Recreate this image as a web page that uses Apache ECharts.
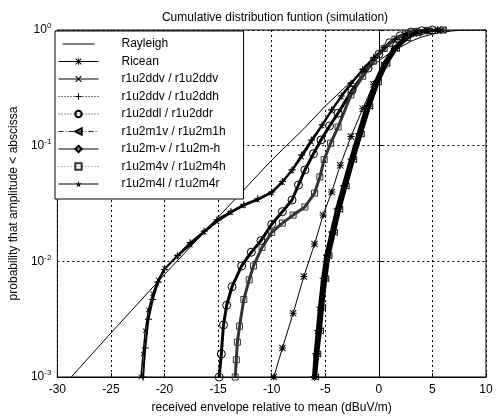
<!DOCTYPE html>
<html><head><meta charset="utf-8">
<script src="https://cdn.jsdelivr.net/npm/echarts@6/dist/echarts.min.js"></script>
<style>html,body{margin:0;padding:0;background:#fff}#c{width:500px;height:419px}</style>
</head><body><div id="c"></div>
<script>
// ---- text ----
const chartTitle = 'Cumulative distribution funtion (simulation)';
const xAxisTitle = 'received envelope relative to mean (dBuV/m)';
const yAxisTitle = 'probability that amplitude < abscissa';
const seriesNames = ['Rayleigh','Ricean','r1u2ddv / r1u2ddv','r1u2ddv / r1u2ddh','r1u2ddl / r1u2ddr',
  'r1u2m1v / r1u2m1h','r1u2m-v / r1u2m-h','r1u2m4v / r1u2m4h','r1u2m4l / r1u2m4r'];
const xTicks = [-30,-25,-20,-15,-10,-5,0,5,10];
const yTicks = [0.001,0.01,0.1,1];

// ---- data (x in dB, y = probability) ----
const rayleighX = [-28.7,-25,-20,-15,-10,-7,-5,-3,-2,-1,0,1,2,3,4,5,6,7,8,10];
const rayleighP = [0.001,0.0024,0.0077,0.024,0.075,0.14,0.22,0.33,0.40,0.47,0.54,0.63,0.71,0.80,0.87,0.92,0.96,0.985,0.996,1.0];

const riceanX = [-9.8,-9.0,-8.0,-7.0,-6.0,-5.2,-4.4,-3.6,-2.6,-1.5,-0.5,0.5,1.5,2.5,3.5,4.5,5.5];
const riceanP = [0.001,0.00178,0.00355,0.0074,0.0141,0.0251,0.0398,0.0676,0.120,0.209,0.339,0.501,0.692,0.851,0.944,0.984,1.0];

const ddvvX = [-22.2,-22.0,-21.8,-21.5,-21.1,-20.6,-20.0,-18.8,-17.6,-16.3,-15.1,-13.8,-12.6,-11.3,-10.0,-9.0,-8.1,-7.2,-6.3,-5.3,-4.4,-3.5,-2.6,-1.5,-0.5,0.5,1.5,2.5,3.5,4.5,5.5];
const ddvvP = [0.001,0.00158,0.00251,0.00380,0.00525,0.00692,0.00871,0.0110,0.0138,0.0178,0.0219,0.0263,0.0302,0.0339,0.0389,0.0479,0.0603,0.0794,0.107,0.148,0.200,0.263,0.339,0.447,0.562,0.692,0.813,0.912,0.968,0.991,1.0];

const ddvhX = [-22.0,-21.8,-21.5,-21.1,-20.6,-20.0,-18.8,-17.6,-16.3,-15.1,-13.8,-12.6,-11.3,-10.0,-9.0,-8.1,-7.2,-6.3,-5.3,-4.4,-3.5,-2.6,-1.5,-0.5,0.5,1.5,2.5,3.5,4.5,5.5];
const ddvhP = [0.001,0.00178,0.00316,0.00468,0.00661,0.00851,0.0112,0.0145,0.0182,0.0229,0.0269,0.0309,0.0347,0.0398,0.0490,0.0617,0.0832,0.112,0.151,0.204,0.269,0.347,0.457,0.575,0.708,0.832,0.923,0.973,0.993,1.0];

const ddlrX = [-14.9,-14.7,-14.5,-14.2,-13.7,-12.8,-11.9,-11.0,-10.0,-9.0,-8.1,-7.5,-6.9,-6.1,-5.4,-4.6,-3.8,-2.5,-1.0,0.0,1.0,2.0,3.0,4.0,5.0];
const ddlrP = [0.001,0.00158,0.00282,0.00417,0.00603,0.00912,0.0120,0.0151,0.0209,0.0269,0.0339,0.0457,0.0617,0.0851,0.112,0.148,0.191,0.302,0.468,0.617,0.776,0.891,0.959,0.986,1.0];

const m1X = [-5.9,-5.7,-5.45,-5.25,-4.95,-4.65,-4.15,-3.65,-3.05,-2.35,-1.65,-0.85,-0.05,0.75,1.65,2.65,3.65,4.7,6.0];
const m1P = [0.001,0.00158,0.00251,0.00398,0.00708,0.0112,0.0178,0.0282,0.0447,0.0759,0.126,0.219,0.355,0.513,0.692,0.851,0.944,0.984,1.0];

const mvhX = [-6.0,-5.8,-5.6,-5.4,-5.1,-4.8,-4.3,-3.8,-3.2,-2.5,-1.8,-1.0,-0.2,0.6,1.5,2.5,3.5,4.5,5.8];
const mvhP = [0.001,0.00158,0.00251,0.00398,0.00708,0.0112,0.0178,0.0282,0.0447,0.0759,0.126,0.219,0.355,0.513,0.692,0.851,0.944,0.984,1.0];

const m4vhX = [-13.4,-13.3,-13.2,-13.0,-12.6,-12.1,-11.7,-10.9,-10.0,-9.0,-8.0,-6.9,-6.0,-5.5,-5.1,-4.5,-3.8,-2.6,-1.5,-0.5,0.5,1.5,2.5,3.5,4.5,6.0];
const m4vhP = [0.001,0.00141,0.00200,0.00275,0.00468,0.00692,0.00912,0.0132,0.0178,0.0214,0.0251,0.0295,0.0389,0.0537,0.0759,0.105,0.145,0.275,0.398,0.537,0.692,0.832,0.923,0.973,0.991,1.0];

const m4lrX = [-6.1,-5.95,-5.75,-5.55,-5.25,-4.95,-4.45,-3.95,-3.35,-2.65,-1.95,-1.15,-0.35,0.45,1.35,2.35,3.35,4.4,5.6];
const m4lrP = [0.001,0.00158,0.00251,0.00398,0.00708,0.0112,0.0178,0.0282,0.0447,0.0759,0.126,0.219,0.355,0.513,0.692,0.851,0.944,0.984,1.0];

// ---- marker shapes ----
const SYM_PLUS = 'path://M4.2,0H5.8V4.2H10V5.8H5.8V10H4.2V5.8H0V4.2H4.2Z';
const SYM_X = 'path://M0,1.2L1.2,0L5,3.8L8.8,0L10,1.2L6.2,5L10,8.8L8.8,10L5,6.2L1.2,10L0,8.8L3.8,5Z';
const SYM_AST = 'path://M4.3,0H5.7V10H4.3Z M0,4.3H10V5.7H0Z M1,0L5,4L9,0L10,1L6,5L10,9L9,10L5,6L1,10L0,9L4,5L0,1Z';
const SYM_STAR = 'path://M5,0L6.18,3.62L10,3.62L6.9,5.86L8.09,9.51L5,7.26L1.91,9.51L3.1,5.86L0,3.62L3.82,3.62Z';
const SYM_LTRI = 'path://M0,5L10,0L10,10Z';
// thin horizontal line icon (tiny corner specks fix the bounding box)
const ICON_LINE = 'path://M0,0H0.01V0.01H0Z M0,4.45H40V5.55H0Z M39.99,9.99H40V10H39.99Z';

function pairs(xs, ps){ return xs.map((x,i)=>[x, ps[i]]); }
function mk(name, xs, ps, opt){
  const filled = opt.filled;
  return {
    name, type:'line', data: pairs(xs, ps),
    symbol: opt.symbol || 'none', symbolSize: opt.size || 6,
    showSymbol: !!opt.symbol,
    lineStyle: {color: opt.color || '#000', width: opt.width || 1, type: opt.type || 'solid'},
    itemStyle: filled ? {color: opt.color || '#000'} :
      {color: 'rgba(255,255,255,0)', borderColor: opt.color || '#000', borderWidth: 1},
    emphasis: {disabled: true}, animation: false, z: opt.z || 2
  };
}

const series = [
  mk(seriesNames[0], rayleighX, rayleighP, {}),
  mk(seriesNames[1], riceanX, riceanP, {symbol: SYM_AST, size: 7, filled: true}),
  mk(seriesNames[2], ddvvX, ddvvP, {symbol: SYM_X, size: 5, filled: true, width: 1.5}),
  mk(seriesNames[3], ddvhX, ddvhP, {symbol: SYM_PLUS, size: 7, filled: true, width: 2}),
  mk(seriesNames[4], ddlrX, ddlrP, {symbol: 'circle', size: 8, width: 3}),
  mk(seriesNames[5], m1X, m1P, {symbol: SYM_LTRI, size: 6, width: 3}),
  mk(seriesNames[6], mvhX, mvhP, {symbol: 'diamond', size: 7, width: 3}),
  mk(seriesNames[7], m4vhX, m4vhP, {symbol: 'rect', size: 6, color: '#333', width: 3}),
  mk(seriesNames[8], m4lrX, m4lrP, {symbol: SYM_STAR, size: 7, filled: true, width: 3})
];

// legend line styles as drawn in the reference key
const legendLineTypes = ['solid','solid','solid',[1,2],[1,2],[5,2,1,2],'solid',[1,2],'solid'];
const legendColors = ['#000','#000','#000','#000','#222','#222','#000','#777','#000'];

const chart = echarts.init(document.getElementById('c'), null, {renderer: 'canvas'});
const FONT = 'Liberation Sans, Arial, sans-serif';
chart.setOption({
  animation: false,
  backgroundColor: '#fff',
  textStyle: {fontFamily: FONT, color: '#000'},
  title: {text: chartTitle, left: 270, top: 7, textAlign: 'center',
    textStyle: {fontSize: 12, fontWeight: 'normal', color: '#000', fontFamily: FONT}},
  grid: {left: 54, right: 14, top: 30, bottom: 41, show: true, borderColor: '#000', borderWidth: 1, backgroundColor: '#fff'},
  legend: {
    orient: 'vertical', left: 55, top: 31,
    data: seriesNames.map((n, i) => i === 0
      ? {name: n, icon: ICON_LINE, itemStyle: {color: '#000', borderWidth: 0}}
      : {name: n, lineStyle: {width: 1, type: legendLineTypes[i], color: legendColors[i]}}),
    itemWidth: 40, itemHeight: 8, itemGap: 5.5,
    padding: [7, 18, 9, 3],
    backgroundColor: '#fff', borderColor: '#000', borderWidth: 1, borderRadius: 0,
    textStyle: {fontSize: 12, color: '#000', fontFamily: FONT, padding: [0,0,0,18]},
    selectedMode: false
  },
  xAxis: {
    type: 'value', min: xTicks[0], max: xTicks[xTicks.length-1], interval: 5,
    name: xAxisTitle, nameLocation: 'middle', nameGap: 25,
    nameTextStyle: {fontSize: 12, color: '#000', fontFamily: FONT},
    axisLine: {show: true, lineStyle: {color: '#000'}},
    axisTick: {show: true, inside: true, length: 4, lineStyle: {color: '#000'}},
    axisLabel: {fontSize: 12, color: '#000', margin: 7, fontFamily: FONT},
    splitLine: {show: true, lineStyle: {color: '#000', type: [2,3], width: 1}}
  },
  yAxis: {
    type: 'log', logBase: 10, min: yTicks[0], max: yTicks[yTicks.length-1],
    name: yAxisTitle, nameLocation: 'middle', nameGap: 34, nameRotate: 90,
    nameTextStyle: {fontSize: 12, color: '#000', fontFamily: FONT},
    axisLine: {show: true, lineStyle: {color: '#000'}},
    axisTick: {show: true, inside: true, length: 4, lineStyle: {color: '#000'}},
    axisLabel: {
      margin: 6, color: '#000', fontSize: 12, fontFamily: FONT,
      formatter: v => '10{s|' + Math.round(Math.log10(v)) + '}',
      rich: {s: {fontSize: 8, padding: [0,0,8,0], color: '#000', fontFamily: FONT}}
    },
    splitLine: {show: true, lineStyle: {color: '#000', type: [2,3], width: 1}}
  },
  series
});
</script></body></html>
